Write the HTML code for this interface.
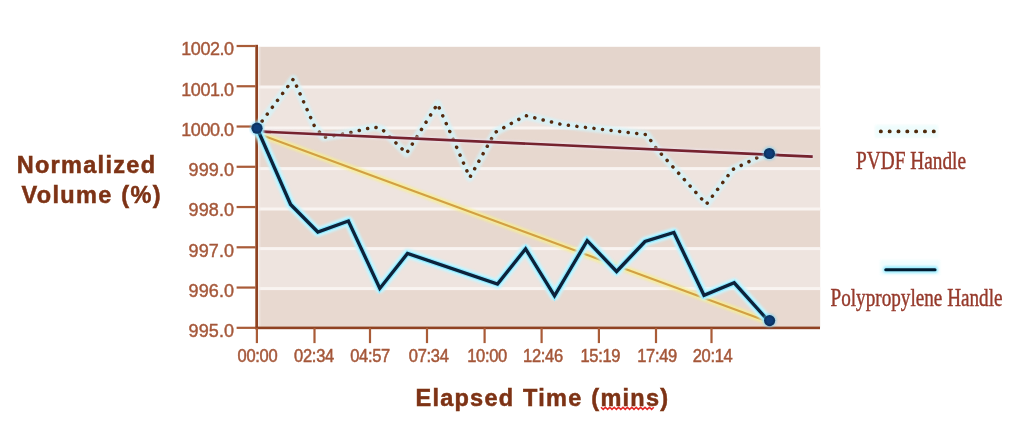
<!DOCTYPE html>
<html lang="en">
<head>
<meta charset="utf-8">
<title>Normalized Volume vs Elapsed Time</title>
<style>
html,body{margin:0;padding:0;background:#fff;}
body{width:1035px;height:426px;overflow:hidden;}
svg{display:block;}
.yl{font-family:"Liberation Sans",sans-serif;font-size:18px;fill:#a5583a;stroke:#a5583a;stroke-width:0.42px;text-anchor:end;}
.xl{font-family:"Liberation Sans",sans-serif;font-size:16.5px;fill:#a5583a;stroke:#a5583a;stroke-width:0.48px;text-anchor:middle;letter-spacing:-0.3px;}
.bt{font-family:"Liberation Sans",sans-serif;font-weight:bold;font-size:23.5px;fill:#7d3214;stroke:#7d3214;stroke-width:0.5px;letter-spacing:1.3px;word-spacing:1px;}
.lg{font-family:"Liberation Serif",serif;font-size:19.5px;fill:#963a2c;stroke:#963a2c;stroke-width:0.35px;}
</style>
</head>
<body>
<svg width="1035" height="426" viewBox="0 0 1035 426">
<defs>
<filter id="soft" x="-5%" y="-5%" width="110%" height="110%"><feGaussianBlur stdDeviation="0.72"/></filter>
<filter id="glow" x="-5%" y="-20%" width="110%" height="140%"><feGaussianBlur stdDeviation="1.2"/></filter>
</defs>
<rect x="0" y="0" width="1035" height="426" fill="#ffffff"/>
<g filter="url(#soft)">

<rect x="258.5" y="46.80" width="561.7" height="40.50" fill="#e4d5cc"/>
<rect x="258.5" y="87.00" width="561.7" height="41.30" fill="#eee4df"/>
<rect x="258.5" y="128.00" width="561.7" height="40.90" fill="#e7d8cf"/>
<rect x="258.5" y="168.60" width="561.7" height="40.70" fill="#eee4df"/>
<rect x="258.5" y="209.00" width="561.7" height="39.90" fill="#e7d8cf"/>
<rect x="258.5" y="248.60" width="561.7" height="40.30" fill="#eee4df"/>
<rect x="258.5" y="288.60" width="561.7" height="39.20" fill="#e8d9d0"/>
<rect x="258.5" y="85.50" width="561.7" height="3.0" fill="#f9f4f1"/>
<rect x="258.5" y="126.50" width="561.7" height="3.0" fill="#f9f4f1"/>
<rect x="258.5" y="167.10" width="561.7" height="3.0" fill="#f9f4f1"/>
<rect x="258.5" y="207.50" width="561.7" height="3.0" fill="#f9f4f1"/>
<rect x="258.5" y="247.10" width="561.7" height="3.0" fill="#f9f4f1"/>
<rect x="258.5" y="287.10" width="561.7" height="3.0" fill="#f9f4f1"/>
<rect x="258.4" y="46.8" width="2.2" height="280" fill="#f4ece8" opacity="0.45"/>
<rect x="255.3" y="44.8" width="2.7" height="284.5" fill="#8f4220"/>
<rect x="255.1" y="326.6" width="564.9" height="2.6" fill="#8f4220"/>
<rect x="236.6" y="44.90" width="19" height="2.2" fill="#a95b38"/>
<rect x="236.6" y="85.16" width="19" height="2.2" fill="#a95b38"/>
<rect x="236.6" y="125.42" width="19" height="2.2" fill="#a95b38"/>
<rect x="236.6" y="165.68" width="19" height="2.2" fill="#a95b38"/>
<rect x="236.6" y="205.94" width="19" height="2.2" fill="#a95b38"/>
<rect x="236.6" y="246.20" width="19" height="2.2" fill="#a95b38"/>
<rect x="236.6" y="286.46" width="19" height="2.2" fill="#a95b38"/>
<rect x="236.6" y="326.72" width="19" height="2.2" fill="#a95b38"/>
<rect x="255.80" y="327.9" width="2.2" height="15.2" fill="#a95b38"/>
<rect x="313.40" y="327.9" width="2.2" height="15.2" fill="#a95b38"/>
<rect x="368.90" y="327.9" width="2.2" height="15.2" fill="#a95b38"/>
<rect x="425.90" y="327.9" width="2.2" height="15.2" fill="#a95b38"/>
<rect x="483.50" y="327.9" width="2.2" height="15.2" fill="#a95b38"/>
<rect x="540.50" y="327.9" width="2.2" height="15.2" fill="#a95b38"/>
<rect x="597.80" y="327.9" width="2.2" height="15.2" fill="#a95b38"/>
<rect x="654.90" y="327.9" width="2.2" height="15.2" fill="#a95b38"/>
<rect x="710.40" y="327.9" width="2.2" height="15.2" fill="#a95b38"/>
<text class="yl" transform="translate(233.6,55.2) scale(1,1.07)" style="letter-spacing:-0.45px">1002.0</text>
<text class="yl" transform="translate(233.6,95.5) scale(1,1.07)" style="letter-spacing:-0.45px">1001.0</text>
<text class="yl" transform="translate(233.6,135.7) scale(1,1.07)" style="letter-spacing:-0.45px">1000.0</text>
<text class="yl" transform="translate(234.1,176.0) scale(1,1.07)" style="letter-spacing:0.10px">999.0</text>
<text class="yl" transform="translate(234.1,216.2) scale(1,1.07)" style="letter-spacing:0.10px">998.0</text>
<text class="yl" transform="translate(234.1,256.5) scale(1,1.07)" style="letter-spacing:0.10px">997.0</text>
<text class="yl" transform="translate(234.1,296.8) scale(1,1.07)" style="letter-spacing:0.10px">996.0</text>
<text class="yl" transform="translate(234.1,337.0) scale(1,1.07)" style="letter-spacing:0.10px">995.0</text>
<text class="xl" transform="translate(257.4,362.2) scale(1,1.07)">00:00</text>
<text class="xl" transform="translate(314.0,362.2) scale(1,1.07)">02:34</text>
<text class="xl" transform="translate(370.1,362.2) scale(1,1.07)">04:57</text>
<text class="xl" transform="translate(428.7,362.2) scale(1,1.07)">07:34</text>
<text class="xl" transform="translate(487.1,362.2) scale(1,1.07)">10:00</text>
<text class="xl" transform="translate(542.9,362.2) scale(1,1.07)">12:46</text>
<text class="xl" transform="translate(600.3,362.2) scale(1,1.07)">15:19</text>
<text class="xl" transform="translate(657.1,362.2) scale(1,1.07)">17:49</text>
<text class="xl" transform="translate(712.6,362.2) scale(1,1.07)">20:14</text>
<text class="bt" x="86.5" y="173.3" text-anchor="middle">Normalized</text>
<text class="bt" x="91.7" y="203" text-anchor="middle">Volume (%)</text>
<text class="bt" x="542.4" y="406.4" text-anchor="middle" style="letter-spacing:1.25px">Elapsed Time (mins)</text>
<polyline points="601.0,407.2 603.2,409.4 605.4,407.2 607.6,409.4 609.8,407.2 612.0,409.4 614.2,407.2 616.4,409.4 618.6,407.2 620.8,409.4 623.0,407.2 625.2,409.4 627.4,407.2 629.6,409.4 631.8,407.2 634.0,409.4 636.2,407.2 638.4,409.4 640.6,407.2 642.8,409.4 645.0,407.2 647.2,409.4 649.4,407.2 651.6,409.4 653.8,407.2" fill="none" stroke="#e42a28" stroke-width="1.5"/>
<line x1="257" y1="133.3" x2="769" y2="322" stroke="#f7ee90" stroke-width="6.5" opacity="0.8" filter="url(#glow)"/>
<line x1="257" y1="133.3" x2="769" y2="322" stroke="#d2a044" stroke-width="2.1"/>
<polyline points="257.0,128.0 293.4,79.0 314.5,126.2 323.8,137.4 348.8,133.0 374.3,127.0 381.8,129.0 406.5,153.3 437.5,104.0 450.0,132.0 469.8,177.5 495.0,132.5 525.6,115.6 562.0,124.6 646.5,134.6 656.5,148.6 706.4,204.2 732.6,169.6 756.6,158.0 769.3,153.4" fill="none" stroke="#d2f4fb" stroke-width="8" stroke-linejoin="round" stroke-linecap="round" opacity="0.75" filter="url(#glow)"/>
<polyline points="257.0,128.0 293.4,79.0 314.5,126.2 323.8,137.4 348.8,133.0 374.3,127.0 381.8,129.0 406.5,153.3 437.5,104.0 450.0,132.0 469.8,177.5 495.0,132.5 525.6,115.6 562.0,124.6 646.5,134.6 656.5,148.6 706.4,204.2 732.6,169.6 756.6,158.0 769.3,153.4" fill="none" stroke="#54290f" stroke-width="3.5" stroke-linecap="round" stroke-linejoin="round" stroke-dasharray="0.1 8.5"/>
<line x1="257" y1="131.4" x2="812.7" y2="156.6" stroke="#efe6f4" stroke-width="5" opacity="0.6" filter="url(#glow)"/>
<line x1="257" y1="131.4" x2="812.7" y2="156.6" stroke="#74202f" stroke-width="2.7"/>
<polyline points="257.0,128.0 290.6,204.5 317.8,232.0 348.4,221.0 379.8,288.5 407.5,253.5 497.5,284.0 525.6,248.8 554.5,295.8 587.2,240.6 616.6,271.5 645.0,241.5 673.9,232.5 704.0,295.3 734.2,282.8 769.0,321.5" fill="none" stroke="#c4f5ff" stroke-width="9.5" stroke-linejoin="round" opacity="1" filter="url(#glow)"/>
<polyline points="257.0,128.0 290.6,204.5 317.8,232.0 348.4,221.0 379.8,288.5 407.5,253.5 497.5,284.0 525.6,248.8 554.5,295.8 587.2,240.6 616.6,271.5 645.0,241.5 673.9,232.5 704.0,295.3 734.2,282.8 769.0,321.5" fill="none" stroke="#86e6ff" stroke-width="5.6" stroke-linejoin="miter" opacity="0.85"/>
<polyline points="257.0,128.0 290.6,204.5 317.8,232.0 348.4,221.0 379.8,288.5 407.5,253.5 497.5,284.0 525.6,248.8 554.5,295.8 587.2,240.6 616.6,271.5 645.0,241.5 673.9,232.5 704.0,295.3 734.2,282.8 769.0,321.5" fill="none" stroke="#07223a" stroke-width="3.3" stroke-linejoin="miter"/>
<circle cx="257.0" cy="128.2" r="7.0" fill="#6fd0f8" opacity="0.55" filter="url(#glow)"/>
<circle cx="257.0" cy="128.2" r="5.6" fill="#093463"/>
<circle cx="257.0" cy="128.2" r="3.4" fill="#0a3c7a"/>
<circle cx="769.4" cy="153.5" r="7.0" fill="#6fd0f8" opacity="0.55" filter="url(#glow)"/>
<circle cx="769.4" cy="153.5" r="5.6" fill="#093463"/>
<circle cx="769.4" cy="153.5" r="3.4" fill="#0a3c7a"/>
<circle cx="769.6" cy="320.6" r="7.0" fill="#6fd0f8" opacity="0.55" filter="url(#glow)"/>
<circle cx="769.6" cy="320.6" r="5.6" fill="#093463"/>
<circle cx="769.6" cy="320.6" r="3.4" fill="#0a3c7a"/>
<rect x="875" y="125" width="63" height="12.5" fill="#e4fafa" opacity="0.6" filter="url(#glow)"/>
<line x1="880.8" y1="131.4" x2="934" y2="131.4" stroke="#4f2c0c" stroke-width="3.9" stroke-linecap="round" stroke-dasharray="0.1 8.72"/>
<rect x="880" y="260" width="60" height="15" fill="#e6fbfd" opacity="0.6" filter="url(#glow)"/>
<rect x="883" y="266.3" width="55" height="6.8" rx="3.4" fill="#8feaff" opacity="0.9" filter="url(#glow)"/>
<line x1="885.8" y1="269.7" x2="935" y2="269.7" stroke="#061a30" stroke-width="3.1" stroke-linecap="round"/>
<text class="lg" transform="translate(856,169) scale(1,1.32)" textLength="110" lengthAdjust="spacingAndGlyphs">PVDF Handle</text>
<text class="lg" transform="translate(830.5,305.5) scale(1,1.32)" textLength="172" lengthAdjust="spacingAndGlyphs">Polypropylene Handle</text>
</g>
</svg>
</body>
</html>
